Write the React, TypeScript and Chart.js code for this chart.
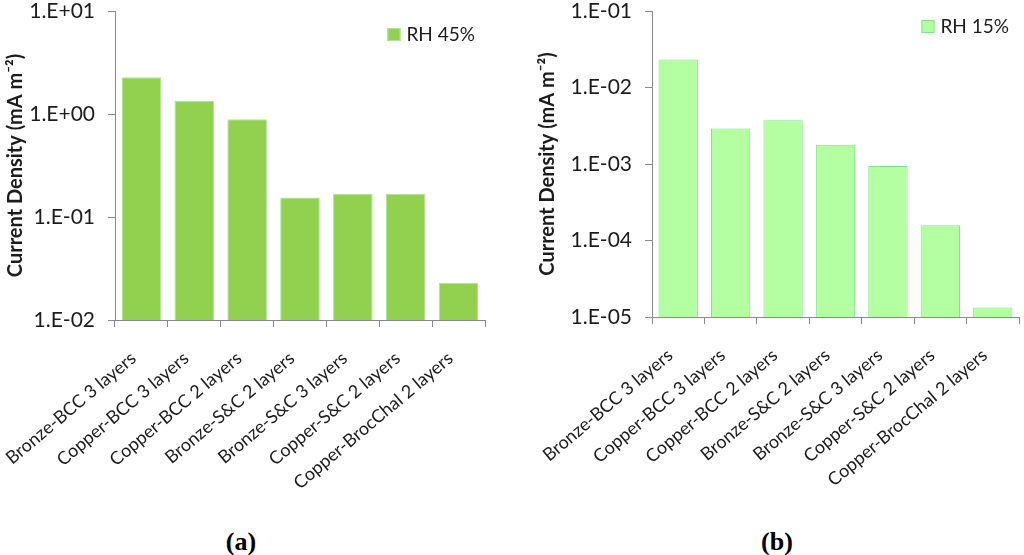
import { useEffect, useRef } from "react";
import { Chart, registerables } from "chart.js";

Chart.register(...registerables);

const categories = [
  "Bronze-BCC 3 layers",
  "Copper-BCC 3 layers",
  "Copper-BCC 2 layers",
  "Bronze-S&C 2 layers",
  "Bronze-S&C 3 layers",
  "Copper-S&C 2 layers",
  "Copper-BrocChal 2 layers",
];

// current density, mA m-2
const rh45 = [2.27, 1.34, 0.887, 0.155, 0.168, 0.168, 0.023];
const rh15 = [0.0233, 0.00292, 0.00372, 0.00179, 0.00094, 0.000158, 0.0000133];

const ticksA = [0.01, 0.1, 1, 10];
const tickLabelsA = ["1.E-02", "1.E-01", "1.E+00", "1.E+01"];
const ticksB = [0.00001, 0.0001, 0.001, 0.01, 0.1];
const tickLabelsB = ["1.E-05", "1.E-04", "1.E-03", "1.E-02", "1.E-01"];

const FONT = "Lato";
const TEXT = "#1c1c1c";
const AXIS = "#8a8a8a";

// legend drawn inside the plot, top right corner
const cornerLegend = {
  id: "cornerLegend",
  afterDraw(chart: any, _args: any, opts: any) {
    const { ctx, chartArea } = chart;
    const ds = chart.data.datasets[0];
    ctx.save();
    ctx.font = `19px ${FONT}`;
    const tw = ctx.measureText(ds.label).width;
    const tx = chartArea.right - opts.right - tw;
    const by = chartArea.top + opts.top;
    ctx.fillStyle = ds.backgroundColor;
    ctx.fillRect(tx - 19, by, 13, 13);
    ctx.strokeStyle = ds.borderColor;
    ctx.lineWidth = 1;
    ctx.strokeRect(tx - 18.5, by + 0.5, 12, 12);
    ctx.fillStyle = TEXT;
    ctx.textBaseline = "middle";
    ctx.fillText(ds.label, tx, by + 7);
    ctx.restore();
  },
};

type PanelProps = {
  values: number[];
  label: string;
  fill: string;
  border: string;
  ticks: number[];
  tickLabels: string[];
  yWidth: number;
  xHeight: number;
  titlePad: number;
  padRight: number;
  legendTop: number;
};

function Panel(p: PanelProps) {
  const ref = useRef<HTMLCanvasElement | null>(null);

  useEffect(() => {
    if (!ref.current) return;
    const chart = new Chart(ref.current, {
      type: "bar",
      data: {
        labels: categories,
        datasets: [
          {
            label: p.label,
            data: p.values,
            backgroundColor: p.fill,
            borderColor: p.border,
            borderWidth: 1,
            categoryPercentage: 1,
            barPercentage: 0.75,
          },
        ],
      },
      plugins: [cornerLegend],
      options: {
        animation: false,
        responsive: true,
        maintainAspectRatio: false,
        layout: { padding: { top: 11, right: p.padRight, left: 0, bottom: 0 } },
        plugins: {
          legend: { display: false },
          tooltip: { enabled: false },
          cornerLegend: { top: p.legendTop, right: 10 },
        } as any,
        scales: {
          x: {
            grid: {
              drawOnChartArea: false,
              drawTicks: true,
              tickLength: 7,
              color: AXIS,
            },
            border: { color: AXIS },
            ticks: {
              color: TEXT,
              font: { family: FONT, size: 18, lineHeight: 1 },
              minRotation: 40,
              maxRotation: 40,
              autoSkip: false,
              padding: 22,
              labelOffset: -8,
            },
            afterFit: (scale: any) => {
              scale.height = p.xHeight;
              scale.paddingLeft = 0;
              scale.paddingRight = 0;
            },
          },
          y: {
            type: "logarithmic",
            min: p.ticks[0],
            max: p.ticks[p.ticks.length - 1],
            grid: {
              drawOnChartArea: false,
              drawTicks: true,
              tickLength: 7,
              color: AXIS,
            },
            border: { color: AXIS },
            ticks: {
              color: TEXT,
              font: { family: FONT, size: 21, lineHeight: 1 },
              padding: 13,
              callback: (v: any) => {
                const i = p.ticks.findIndex((t) => Math.abs(Math.log10(t) - Math.log10(v)) < 1e-6);
                return i >= 0 ? p.tickLabels[i] : "";
              },
            },
            afterBuildTicks: (scale: any) => {
              scale.ticks = p.ticks.map((v) => ({ value: v }));
            },
            afterFit: (scale: any) => {
              scale.width = p.yWidth;
              scale.paddingTop = 0;
              scale.paddingBottom = 0;
            },
            title: {
              display: true,
              text: "Current Density (mA m\u207B\u00B2)",
              color: TEXT,
              font: { family: FONT, size: 20, weight: "bold", lineHeight: 1 },
              padding: { top: p.titlePad, bottom: 0 },
            },
          },
        },
      },
    });
    return () => chart.destroy();
  }, [p]);

  return <canvas ref={ref} />;
}

const captionStyle: React.CSSProperties = {
  position: "absolute",
  top: 529,
  fontFamily: "'Liberation Serif', serif",
  fontWeight: "bold",
  fontSize: 26,
  lineHeight: "26px",
  color: "#000",
};

export default function App() {
  return (
    <div
      style={{
        position: "fixed",
        left: 0,
        top: 0,
        width: 1024,
        height: 555,
        background: "#fff",
        overflow: "hidden",
      }}
    >
      <div style={{ position: "absolute", left: 0, top: 0, width: 500, height: 515 }}>
        <Panel
          values={rh45}
          label="RH 45%"
          fill="#92d050"
          border="#a9e69a"
          ticks={ticksA}
          tickLabels={tickLabelsA}
          yWidth={115}
          xHeight={195}
          titlePad={6}
          padRight={15}
          legendTop={17}
        />
      </div>
      <div style={{ position: "absolute", left: 512, top: 0, width: 512, height: 515 }}>
        <Panel
          values={rh15}
          label="RH 15%"
          fill="#b3ffa2"
          border="#7ee48a"
          ticks={ticksB}
          tickLabels={tickLabelsB}
          yWidth={140}
          xHeight={198}
          titlePad={26}
          padRight={5}
          legendTop={9}
        />
      </div>
      <div style={{ ...captionStyle, left: 241, transform: "translateX(-50%)" }}>(a)</div>
      <div style={{ ...captionStyle, left: 777, transform: "translateX(-50%)" }}>(b)</div>
    </div>
  );
}
